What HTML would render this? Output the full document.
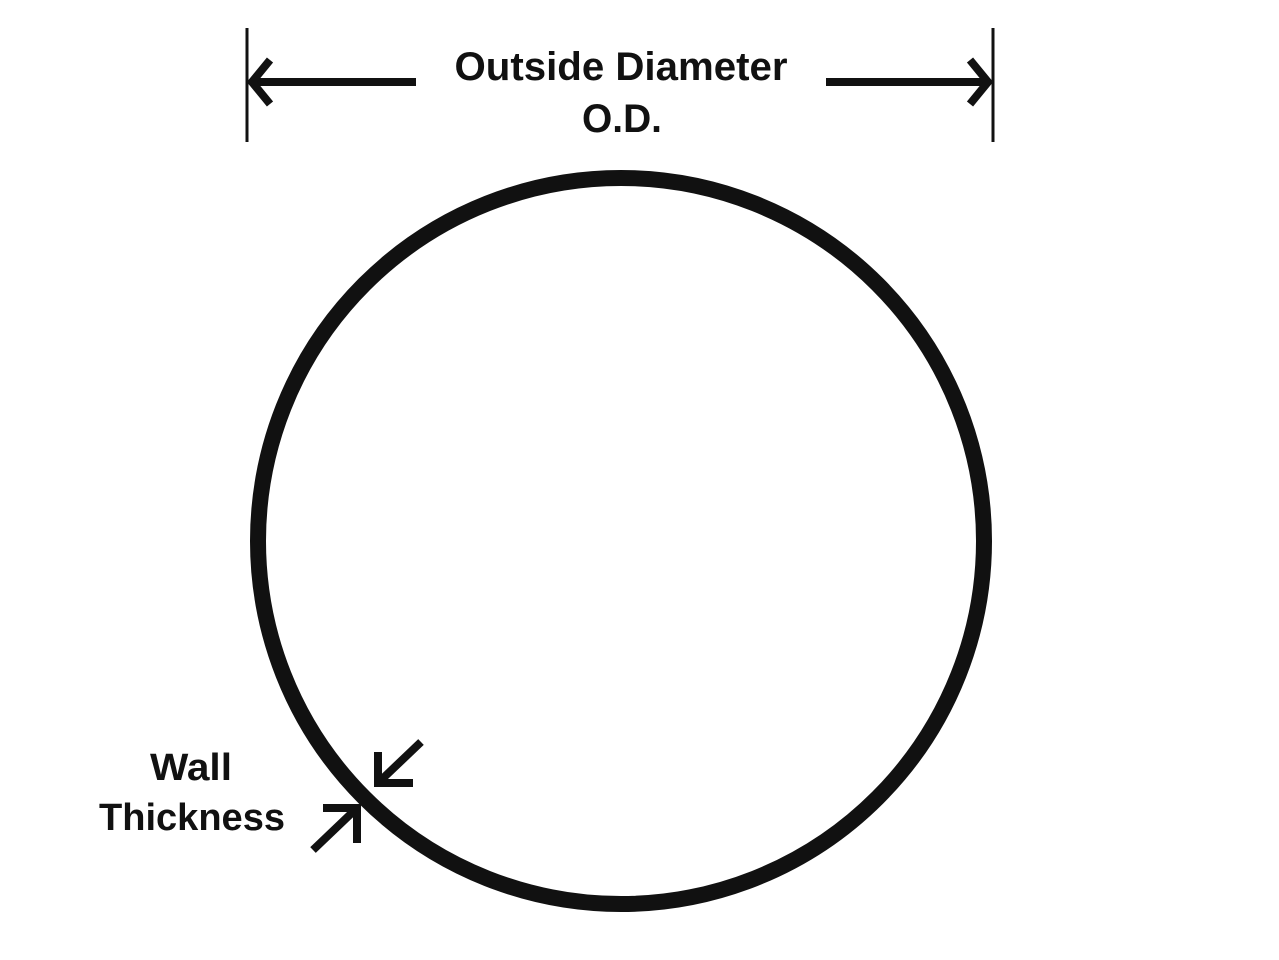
<!DOCTYPE html>
<html><head><style>
html,body{margin:0;padding:0;background:#fff;}
svg{display:block;}
text{font-family:"Liberation Sans",sans-serif;font-weight:bold;fill:#111;}
</style></head><body>
<svg width="1279" height="960" viewBox="0 0 1279 960">
<g stroke="#111" fill="none" stroke-linecap="butt">
<line x1="247" y1="28" x2="247" y2="142" stroke-width="3"/>
<line x1="993" y1="28" x2="993" y2="142" stroke-width="3"/>
<line x1="252" y1="82" x2="416" y2="82" stroke-width="8"/>
<polyline points="270,60 252,82 270,104" stroke-width="8" stroke-linejoin="miter"/>
<line x1="826" y1="82" x2="988" y2="82" stroke-width="8"/>
<polyline points="970,60 988,82 970,104" stroke-width="8"/>
<circle cx="621" cy="541" r="363" stroke-width="16"/>
<line x1="421" y1="742" x2="378" y2="783" stroke-width="8"/>
<polyline points="378,752 378,783 413,783" stroke-width="8"/>
<line x1="313" y1="850" x2="357" y2="808" stroke-width="8"/>
<polyline points="323,808 357,808 357,843" stroke-width="8"/>
</g>
<text x="621" y="80" text-anchor="middle" font-size="40" textLength="333" lengthAdjust="spacingAndGlyphs">Outside Diameter</text>
<text x="622" y="132" text-anchor="middle" font-size="40" textLength="80" lengthAdjust="spacingAndGlyphs">O.D.</text>
<text x="191" y="780" text-anchor="middle" font-size="38" textLength="82" lengthAdjust="spacingAndGlyphs">Wall</text>
<text x="192" y="830" text-anchor="middle" font-size="38" textLength="186" lengthAdjust="spacingAndGlyphs">Thickness</text>
</svg>
</body></html>
